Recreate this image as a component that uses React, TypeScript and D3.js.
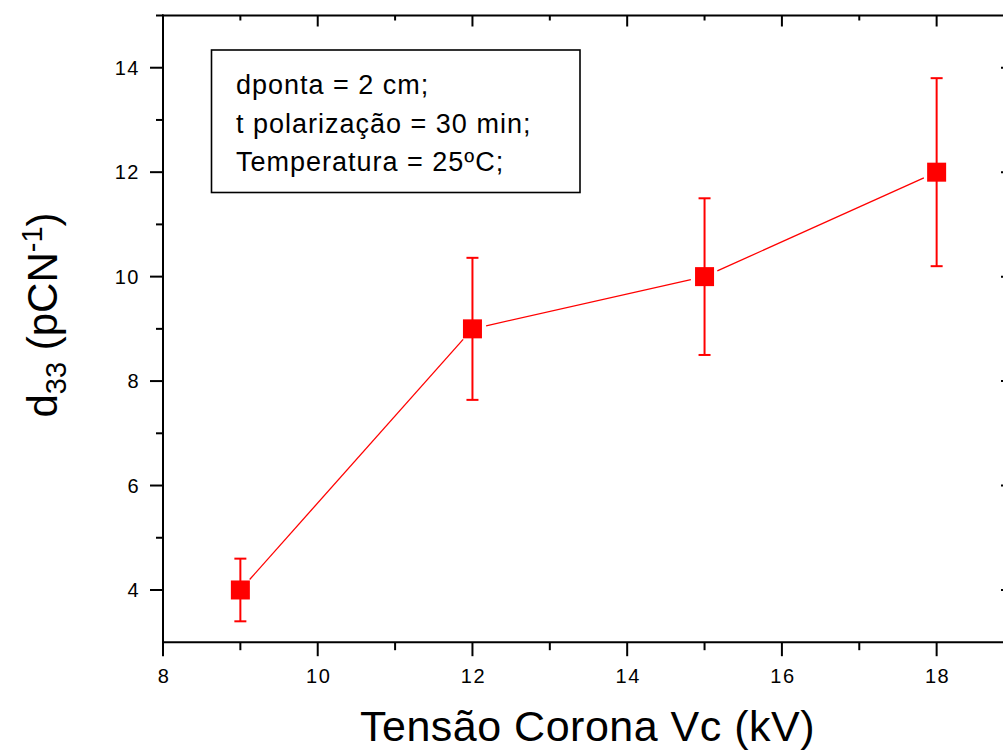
import React from "react";
import * as d3 from "d3";

const voltages = [9, 12, 15, 18];
const d33Values = [4, 9, 10, 12];
const d33Errors = [0.6, 1.36, 1.5, 1.8];
const xMajorTicks = [8, 10, 12, 14, 16, 18];
const xMinorTicks = [9, 11, 13, 15, 17, 19];
const yMajorTicks = [4, 6, 8, 10, 12, 14];
const yMinorTicks = [5, 7, 9, 11, 13, 15];
const infoLines = ["dponta = 2 cm;", "t polarização = 30 min;", "Temperatura = 25ºC;"];

const W = 1003;
const H = 751;
const left = 163;
const right = 1014;
const top = 15.5;
const bottom = 642.2;
const FONT = "'Liberation Sans', Arial, sans-serif";

export default function App() {
  const x = d3.scaleLinear().domain([8, 19]).range([left, right]);
  const y = d3.scaleLinear().domain([3, 15]).range([bottom, top]);
  const red = "#ff0000";
  const gap = 14;

  const pts = voltages.map((v, i) => ({ px: x(v), py: y(d33Values[i]), e: d33Errors[i], v: d33Values[i] }));
  const segs = [] as { x1: number; y1: number; x2: number; y2: number }[];
  for (let i = 0; i < pts.length - 1; i++) {
    const a = pts[i], b = pts[i + 1];
    const dx = b.px - a.px, dy = b.py - a.py;
    const L = Math.hypot(dx, dy);
    const ux = dx / L, uy = dy / L;
    segs.push({ x1: a.px + ux * gap, y1: a.py + uy * gap, x2: b.px - ux * gap, y2: b.py - uy * gap });
  }
  const ms = 19;

  return (
    <div style={{ position: "fixed", left: 0, top: 0, width: W, height: H, background: "#fff" }}>
      <svg width={W} height={H} style={{ display: "block" }} fontFamily={FONT}>
        <rect x={0} y={0} width={W} height={H} fill="#fff" />
        {/* axes frame */}
        <g stroke="#000" strokeWidth={2} strokeLinecap="square" fill="none">
          <line x1={left} y1={top} x2={left} y2={bottom} />
          <line x1={left} y1={bottom} x2={right} y2={bottom} />
          <line x1={left} y1={top} x2={right} y2={top} />
          <line x1={right} y1={top} x2={right} y2={bottom} />
        </g>
        <g stroke="#000" strokeWidth={2}>
          {xMajorTicks.map((t) => (
            <g key={"xM" + t}>
              <line x1={x(t)} x2={x(t)} y1={bottom} y2={bottom + 14} />
              <line x1={x(t)} x2={x(t)} y1={top} y2={top + 11} />
            </g>
          ))}
          {xMinorTicks.map((t) => (
            <g key={"xm" + t}>
              <line x1={x(t)} x2={x(t)} y1={bottom} y2={bottom + 8} />
              <line x1={x(t)} x2={x(t)} y1={top} y2={top + 5} />
            </g>
          ))}
          {yMajorTicks.map((t) => (
            <g key={"yM" + t}>
              <line x1={left - 13} x2={left} y1={y(t)} y2={y(t)} />
              <line x1={right - 13} x2={right} y1={y(t)} y2={y(t)} />
            </g>
          ))}
          {yMinorTicks.map((t) => (
            <g key={"ym" + t}>
              <line x1={left - 7} x2={left} y1={y(t)} y2={y(t)} />
              <line x1={right - 6} x2={right} y1={y(t)} y2={y(t)} />
            </g>
          ))}
        </g>
        <g fontSize={20} fill="#000" letterSpacing={1.5}>
          {xMajorTicks.map((t) => (
            <text key={"xl" + t} x={x(t) + 1} y={683} textAnchor="middle">{t}</text>
          ))}
          {yMajorTicks.map((t) => (
            <text key={"yl" + t} x={140} y={y(t) + 7} textAnchor="end">{t}</text>
          ))}
        </g>
        {/* axis titles */}
        <text x={(left + right) / 2 - 1} y={741} fontSize={43} textAnchor="middle" fill="#000" letterSpacing={0.5}>
          Tensão Corona Vc (kV)
        </text>
        <text transform={`translate(57, 315) rotate(-90)`} fontSize={42} textAnchor="middle" fill="#000">
          d<tspan fontSize={29} dy={9}>33</tspan>
          <tspan dy={-9}> (pCN</tspan>
          <tspan fontSize={29} dy={-15}>-1</tspan>
          <tspan dy={15}>)</tspan>
        </text>
        {/* info box */}
        <rect x={211.5} y={50} width={368.5} height={142.5} fill="#fff" stroke="#000" strokeWidth={1.6} />
        <g fontSize={27} fill="#000" letterSpacing={1}>
          {infoLines.map((s, i) => (
            <text key={s} x={236} y={94 + i * 38.5}>{s}</text>
          ))}
        </g>
        {/* data line */}
        <g stroke={red} strokeWidth={1.3}>
          {segs.map((s, i) => (
            <line key={"s" + i} x1={s.x1} y1={s.y1} x2={s.x2} y2={s.y2} />
          ))}
        </g>
        {/* error bars */}
        <g stroke={red} strokeWidth={2}>
          {pts.map((p, i) => {
            const yt = y(p.v + p.e), yb = y(p.v - p.e);
            return (
              <g key={"e" + i}>
                <line x1={p.px} x2={p.px} y1={yt} y2={yb} />
                <line x1={p.px - 6} x2={p.px + 6} y1={yt} y2={yt} />
                <line x1={p.px - 6} x2={p.px + 6} y1={yb} y2={yb} />
              </g>
            );
          })}
        </g>
        {/* markers */}
        <g fill={red}>
          {pts.map((p, i) => (
            <rect key={"m" + i} x={p.px - ms / 2} y={p.py - ms / 2} width={ms} height={ms} />
          ))}
        </g>
      </svg>
    </div>
  );
}
